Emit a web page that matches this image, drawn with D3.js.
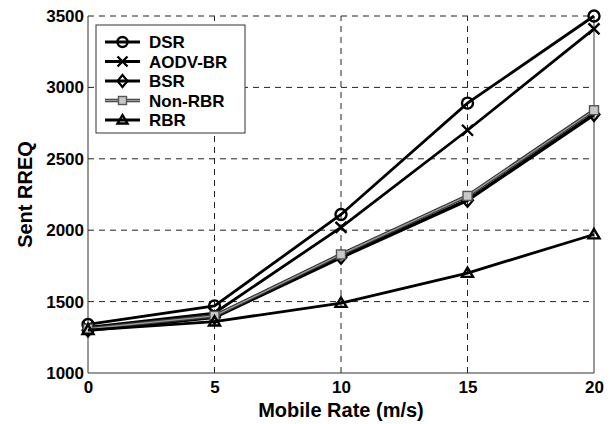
<!DOCTYPE html>
<html>
<head>
<meta charset="utf-8">
<script src="https://d3js.org/d3.v7.min.js"></script>
<style>
  body { margin: 0; background: #fff; }
  text { font-family: Arial, "Liberation Sans", sans-serif; font-weight: bold; }
</style>
</head>
<body>
<div id="chart"></div>
<script>
// chart data
var rates = [0, 5, 10, 15, 20];
var dsr = [1340, 1470, 2110, 2890, 3500];
var aodvbr = [1320, 1420, 2020, 2700, 3410];
var bsr = [1300, 1390, 1810, 2210, 2810];
var nonrbr = [1310, 1400, 1830, 2240, 2840];
var rbr = [1300, 1360, 1490, 1700, 1970];
var xTicks = [0, 5, 10, 15, 20];
var yTicks = [1000, 1500, 2000, 2500, 3000, 3500];

var series = [
  {name: "DSR", values: dsr, marker: "circle", color: "#000", width: 2.8},
  {name: "AODV-BR", values: aodvbr, marker: "x", color: "#000", width: 2.8},
  {name: "BSR", values: bsr, marker: "diamond", color: "#000", width: 3.6},
  {name: "Non-RBR", values: nonrbr, marker: "square", color: "#9a9a9a", width: 1.4},
  {name: "RBR", values: rbr, marker: "triangle", color: "#000", width: 2.8}
];

var width = 616, height = 424;
var m = {left: 88, right: 22, top: 16, bottom: 51};

var svg = d3.select("#chart").append("svg")
  .attr("width", width).attr("height", height);

var x = d3.scaleLinear().domain([0, 20]).range([m.left, width - m.right]);
var y = d3.scaleLinear().domain([1000, 3500]).range([height - m.bottom, m.top]);

// grid
svg.append("g").selectAll("line").data(xTicks.slice(1, -1)).enter().append("line")
  .attr("x1", d => x(d)).attr("x2", d => x(d))
  .attr("y1", y(1000)).attr("y2", y(3500))
  .attr("stroke", "#222").attr("stroke-width", 1).attr("stroke-dasharray", "6,5");
svg.append("g").selectAll("line").data(yTicks.slice(1)).enter().append("line")
  .attr("x1", x(0)).attr("x2", x(20))
  .attr("y1", d => y(d)).attr("y2", d => y(d))
  .attr("stroke", "#222").attr("stroke-width", 1).attr("stroke-dasharray", "6,5");

// frame
svg.append("path")
  .attr("d", "M" + x(0) + "," + y(3500) + "V" + y(1000) + "H" + x(20) + "V" + y(3500))
  .attr("fill", "none").attr("stroke", "#333").attr("stroke-width", 1);

// axes
var xAxis = svg.append("g").attr("transform", "translate(0," + y(1000) + ")")
  .call(d3.axisBottom(x).tickValues(xTicks).tickSize(0).tickPadding(8).tickFormat(d3.format("d")));
var yAxis = svg.append("g").attr("transform", "translate(" + x(0) + ",0)")
  .call(d3.axisLeft(y).tickValues(yTicks).tickSize(0).tickPadding(4).tickFormat(d3.format("d")));
[xAxis, yAxis].forEach(function(a) {
  a.select(".domain").remove();
  a.selectAll("text").attr("font-size", 17).attr("font-weight", "bold")
    .attr("fill", "#000").attr("font-family", "Arial, 'Liberation Sans', sans-serif");
});

svg.append("text").attr("x", (x(0) + x(20)) / 2).attr("y", 417)
  .attr("text-anchor", "middle").attr("font-size", 20).text("Mobile Rate (m/s)");
svg.append("text").attr("transform", "translate(32," + ((y(1000) + y(3500)) / 2) + ") rotate(-90)")
  .attr("text-anchor", "middle").attr("font-size", 20).text("Sent RREQ");

function drawMarker(g, type, cx, cy, color, s) {
  if (type === "circle") {
    g.append("circle").attr("cx", cx).attr("cy", cy).attr("r", s)
      .attr("fill", "none").attr("stroke", color).attr("stroke-width", 2.4);
  } else if (type === "x") {
    g.append("path").attr("d", "M" + (cx - s) + "," + (cy - s) + "L" + (cx + s) + "," + (cy + s) +
      "M" + (cx - s) + "," + (cy + s) + "L" + (cx + s) + "," + (cy - s))
      .attr("stroke", color).attr("stroke-width", 2.4);
  } else if (type === "diamond") {
    g.append("path").attr("d", "M" + cx + "," + (cy - s - 1) + "L" + (cx + s) + "," + cy +
      "L" + cx + "," + (cy + s + 1) + "L" + (cx - s) + "," + cy + "Z")
      .attr("fill", "none").attr("stroke", color).attr("stroke-width", 2.2);
  } else if (type === "square") {
    g.append("rect").attr("x", cx - s + 1).attr("y", cy - s + 1).attr("width", 2 * s - 2).attr("height", 2 * s - 2)
      .attr("fill", "#c8c8c8").attr("stroke", "#555").attr("stroke-width", 1.4);
  } else if (type === "triangle") {
    g.append("path").attr("d", "M" + cx + "," + (cy - s) + "L" + (cx + s) + "," + (cy + s * 0.7) +
      "L" + (cx - s) + "," + (cy + s * 0.7) + "Z")
      .attr("fill", "none").attr("stroke", color).attr("stroke-width", 2.4);
  }
}

var line = d3.line().x((d, i) => x(rates[i])).y(d => y(d));

series.forEach(function(s) {
  var g = svg.append("g");
  if (s.name === "Non-RBR") {
    g.append("path").datum(s.values).attr("d", line)
      .attr("fill", "none").attr("stroke", "#333").attr("stroke-width", 3.6);
  }
  g.append("path").datum(s.values).attr("d", line)
    .attr("fill", "none").attr("stroke", s.color).attr("stroke-width", s.width);
  s.values.forEach(function(v, i) {
    drawMarker(g, s.marker, x(rates[i]), y(v), s.name === "Non-RBR" ? "#555" : "#000", 5.5);
  });
});

// legend
var lg = svg.append("g");
lg.append("rect").attr("x", 96).attr("y", 25).attr("width", 149).attr("height", 108)
  .attr("fill", "#fff").attr("stroke", "#333").attr("stroke-width", 1);
series.forEach(function(s, i) {
  var ly = 42 + i * 19.5;
  if (s.name === "Non-RBR") {
    lg.append("line").attr("x1", 105).attr("x2", 140).attr("y1", ly).attr("y2", ly)
      .attr("stroke", "#333").attr("stroke-width", 3.6);
  }
  lg.append("line").attr("x1", 105).attr("x2", 140).attr("y1", ly).attr("y2", ly)
    .attr("stroke", s.color).attr("stroke-width", s.name === "Non-RBR" ? 1.4 : 2.8);
  drawMarker(lg, s.marker, 122.5, ly, s.name === "Non-RBR" ? "#555" : "#000", 5);
  lg.append("text").attr("x", 149).attr("y", ly + 6).attr("font-size", 17).text(s.name);
});
</script>
</body>
</html>
